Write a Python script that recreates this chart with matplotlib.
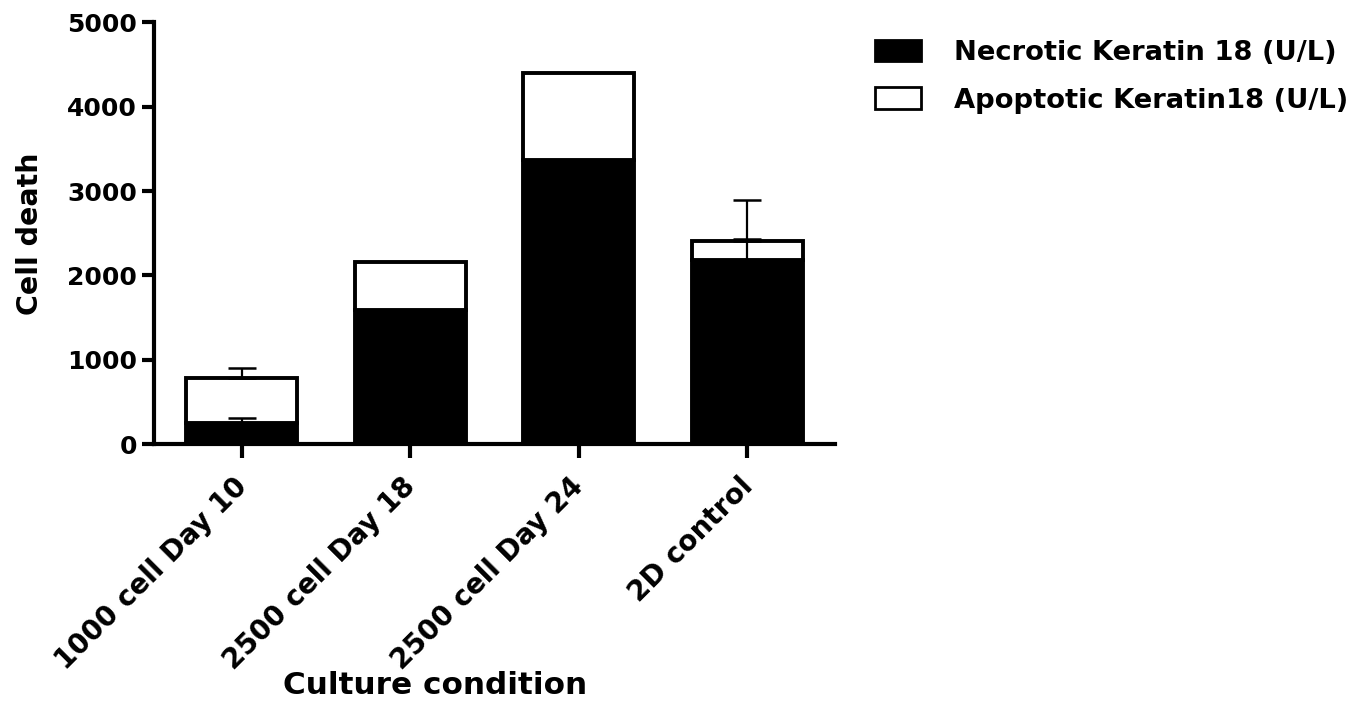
import matplotlib
matplotlib.use("Agg")
import matplotlib.pyplot as plt
import matplotlib.transforms as mtransforms
from matplotlib.patches import Patch
import numpy as np

categories = ["1000 cell Day 10", "2500 cell Day 18", "2500 cell Day 24", "2D control"]
necrotic = [256, 1590, 3370, 2183]
apoptotic = [533, 575, 1025, 229]
necrotic_err = [59, 0, 0, 249]
apoptotic_err = [118, 0, 0, 482]
yticks = [0, 1000, 2000, 3000, 4000, 5000]
series_labels = ["Necrotic Keratin 18 (U/L)", "Apoptotic Keratin18 (U/L)"]

plt.rcParams['font.family'] = ['DejaVu Sans']

fig = plt.figure(figsize=(13.72, 7.13), dpi=100)
ax = fig.add_axes([0.1122, 0.3769, 0.4964, 0.5919])

x = np.arange(len(categories))
nec = np.array(necrotic, dtype=float)
apo = np.array(apoptotic, dtype=float)
ne = np.array(necrotic_err, dtype=float)
ae = np.array(apoptotic_err, dtype=float)

bw = 0.66
elw = 2.8
ax.bar(x, nec, width=bw, color='black', edgecolor='black', linewidth=elw, zorder=1)
ax.bar(x, apo, width=bw, bottom=nec, color='white', edgecolor='black', linewidth=elw, zorder=1.1)

m = ne > 0
ax.errorbar(x[m], nec[m], yerr=[np.zeros(m.sum()), ne[m]], fmt='none', ecolor='black',
            elinewidth=1.6, capsize=10.4, capthick=1.8, zorder=3)
m2 = ae > 0
tot = nec + apo
ax.errorbar(x[m2], tot[m2], yerr=[np.zeros(m2.sum()), ae[m2]], fmt='none', ecolor='black',
            elinewidth=1.6, capsize=10.4, capthick=1.8, zorder=3)

ax.set_xlim(-0.52, 3.52)
ax.set_ylim(0, 5000)
ax.set_yticks(yticks)
ax.set_yticklabels([str(v) for v in yticks], fontsize=18, fontweight='bold')

for s in ['top', 'right']:
    ax.spines[s].set_visible(False)
for s in ['left', 'bottom']:
    ax.spines[s].set_linewidth(3)
ax.tick_params(axis='y', direction='out', length=8.6, width=3, pad=3.4)
ax.tick_params(axis='x', direction='out', length=10, width=3, pad=12)

ax.set_xticks(x)
ax.set_xticklabels(categories, fontsize=20, fontweight='bold', rotation=45,
                   ha='right', va='top', rotation_mode='anchor')
offset = mtransforms.ScaledTranslation(-6.5 / 72, 2 / 72, fig.dpi_scale_trans)
for lab in ax.get_xticklabels():
    lab.set_transform(lab.get_transform() + offset)

ax.set_ylabel("Cell death", fontsize=20.5, fontweight='bold')
ax.yaxis.set_label_coords(-0.161, 0.5)
ax.set_xlabel("Culture condition", fontsize=22.4, fontweight='bold')
ax.xaxis.set_label_coords(0.4126, -0.537)

handles = [Patch(facecolor='black', edgecolor='black', linewidth=2),
           Patch(facecolor='white', edgecolor='black', linewidth=2)]
fig.legend(handles, series_labels, loc='upper left', bbox_to_anchor=(0.6378, 0.944),
           frameon=False, borderpad=0, borderaxespad=0, handlelength=1.69,
           handleheight=0.83, handletextpad=1.19, labelspacing=0.78,
           prop={'size': 19.7, 'weight': 'bold'})

fig.savefig("out.png", dpi=100)
